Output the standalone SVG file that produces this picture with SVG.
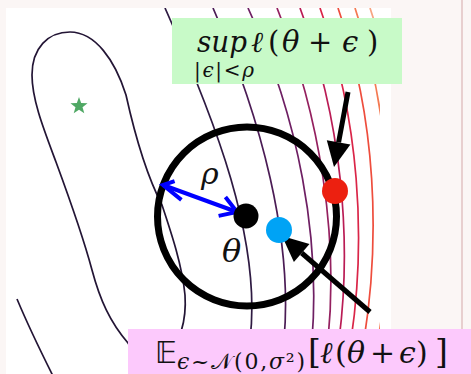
<svg xmlns="http://www.w3.org/2000/svg" width="471" height="374" viewBox="0 0 471 374">
<defs>
<style>
.c{fill:none;stroke-width:1.7}
.m{font-family:"DejaVu Serif","Liberation Serif",serif;fill:#111}
.i{font-style:italic}
.arr{stroke:#000;stroke-width:5;fill:none}
</style>
<clipPath id="plotclip"><rect x="6" y="8" width="374" height="366"/></clipPath>
</defs>
<rect width="471" height="374" fill="#fbf6f5"/>
<rect x="6" y="8" width="385" height="366" fill="#ffffff"/>
<rect x="461" y="0" width="2" height="374" fill="#e8cfcf"/>
<g id="contours" clip-path="url(#plotclip)">
<path class="c" stroke="#231535" d="M128,343 C110,322 100,300 92,270 C84,240 70,200 56,162 C44,130 32,100 32,75 C32,48 48,32 70,32 C95,32 115,60 126,95 C136,140 148,178 162,205 C172,235 182,265 185,295 C187,325 178,345 165,360 C150,375 138,360 128,343 Z"/>
<path class="c" stroke="#231535" d="M17,299 Q30,330 53,376"/>
<path class="c" stroke="#2e1a42" d="M165,8 C215,120 262,240 250,340"/>
<path class="c" stroke="#4b1c55" d="M213,8 C262,120 293,240 284,340"/>
<path class="c" stroke="#6e1f63" d="M248,8 C300,120 320,240 312,340"/>
<path class="c" stroke="#94205f" d="M277,8 C322,120 338,240 328,340"/>
<path class="c" stroke="#ba1c55" d="M300,8 C342,120 352,240 339,340"/>
<path class="c" stroke="#da2548" d="M320,8 C360,120 366,240 351,340"/>
<path class="c" stroke="#ee4d3d" d="M338,8 C377,120 380,240 364,340"/>
<path class="c" stroke="#f47a52" d="M355,8 C393,120 395,240 378,340"/>
<path class="c" stroke="#f7a482" d="M370,8 C408,120 410,240 392,340"/>
</g>
<g id="star"><polygon fill="#4fa864" points="79,97 81.17,103.01 87.56,103.22 82.52,107.14 84.29,113.28 79,109.7 73.71,113.28 75.48,107.14 70.44,103.22 76.83,103.01"/></g>
<g id="ball"><circle cx="247" cy="216.5" r="89.5" fill="none" stroke="#000" stroke-width="7"/></g>
<g id="connectors">
<g id="rho-arrow" stroke="#0000ff" stroke-width="4" fill="none">
<line x1="163" y1="185" x2="237" y2="212"/>
<polyline points="174.6,181.1 163,185 181.4,199.9"/>
<polyline points="225.4,197.1 237,212 218.6,215.9"/>
</g>
<g id="arrow-sup">
<line class="arr" x1="348" y1="92" x2="338.6" y2="142.4"/>
<polygon points="334,167 350.4,144.6 326.8,140.2" fill="#000"/>
</g>
<g id="arrow-exp">
<line class="arr" x1="370" y1="312" x2="301.7" y2="253"/>
<polygon points="282,236 309.5,243.9 293.9,262.1" fill="#000"/>
</g>
</g>
<g id="theta"><circle cx="246" cy="216" r="12.5" fill="#000"/>
<text class="m i" x="222" y="262" font-size="32">θ</text></g>
<g id="rho-label"><text class="m i" x="201" y="184" font-size="30">ρ</text></g>
<g id="noise-point"><circle cx="279" cy="230" r="13" fill="#00a3f5"/></g>
<g id="worst-point"><circle cx="335" cy="191" r="13" fill="#ec2010"/></g>
<g id="label-sup">
<rect x="172" y="18" width="230" height="66" fill="#c8fac8"/>
<text class="m" font-size="29" y="52"><tspan x="197" class="i" textLength="50" lengthAdjust="spacingAndGlyphs">sup</tspan><tspan x="251" class="i">ℓ</tspan><tspan x="268">(</tspan><tspan x="282" class="i">θ</tspan><tspan x="308">+</tspan><tspan x="342" class="i">ϵ</tspan><tspan x="367">)</tspan></text>
<text class="m" font-size="20" y="77" textLength="60" lengthAdjust="spacing" x="194">|<tspan class="i">ϵ</tspan>|&lt;<tspan class="i">ρ</tspan></text>
</g>
<g id="label-exp">
<rect x="128" y="329" width="343" height="45" fill="#fcc9fc"/>
<text class="m" font-size="30" y="363"><tspan x="155" font-family="DejaVu Sans, DejaVu Serif, serif">𝔼</tspan><tspan x="308" font-size="33">[</tspan><tspan x="320" class="i">ℓ</tspan><tspan x="335">(</tspan><tspan x="347" class="i">θ</tspan><tspan x="370">+</tspan><tspan x="399" class="i">ϵ</tspan><tspan x="416">)</tspan><tspan x="435" font-size="33">]</tspan></text>
<text class="m" font-size="22" y="369" x="177" textLength="128" lengthAdjust="spacing"><tspan class="i">ϵ</tspan>~<tspan font-family="DejaVu Sans, serif">𝒩</tspan>(0,<tspan class="i">σ</tspan>²)</text>
</g>
</svg>
